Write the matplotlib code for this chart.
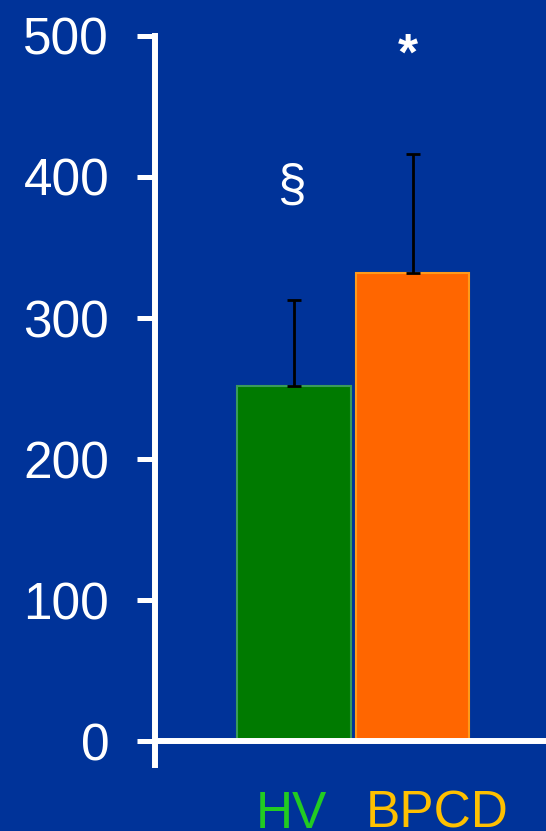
import numpy as np
import matplotlib.pyplot as plt

plt.rcParams['font.family'] = ['Liberation Sans', 'DejaVu Sans']

# 组别与数值
groups = ['HV', 'BPCD']
means = [252, 332]
errs_up = [61, 84]
marks = ['§', '*']
mark_y = [393, 486]

bg = '#003399'
bar_colors = ['#007a00', '#ff6600']
edge_colors = ['#3a9a5a', '#ff9a1a']
label_colors = ['#22cc22', '#ffc000']

fig = plt.figure(figsize=(5.46, 8.31), dpi=100, facecolor=bg)
ax = fig.add_axes([0.2839, 0.0794, 0.7161, 0.8773], facecolor=bg)

x = np.arange(len(groups))
ax.bar(x, means, width=0.95, color=bar_colors, edgecolor=edge_colors, linewidth=1.5, zorder=2)
ax.errorbar(x, means, yerr=[np.zeros(len(x)), errs_up], fmt='none',
            ecolor='black', elinewidth=2, capsize=5, capthick=2, zorder=3)

# 显著性标记
mark_dx = [-0.02, -0.04]
mark_w = ['normal', 'bold']
for xi, m, my, dx, w in zip(x, marks, mark_y, mark_dx, mark_w):
    ax.text(xi + dx, my, m, color='white', fontsize=37, fontweight=w,
            ha='center', va='center')

# 组名（横轴下方）
label_dx = [-0.02, 0.2]
for xi, g, c, dx in zip(x, groups, label_colors, label_dx):
    ax.text(xi + dx, -61.5, g, color=c, fontsize=37, ha='center', va='baseline', clip_on=False)

ax.set_xlim(-1.168, 2.118)
ax.set_ylim(-17, 500)
ax.set_yticks([0, 100, 200, 300, 400, 500])
ax.set_xticks([])

for s in ['top', 'right']:
    ax.spines[s].set_visible(False)
ax.spines['bottom'].set_position(('data', 0))
ax.spines['left'].set_color('white')
ax.spines['bottom'].set_color('white')
ax.spines['left'].set_linewidth(4.3)
ax.spines['bottom'].set_linewidth(4.3)
ax.tick_params(axis='y', colors='white', labelsize=37, length=13, width=3.6, pad=20)

fig.savefig('out.png', dpi=100, facecolor=bg)
